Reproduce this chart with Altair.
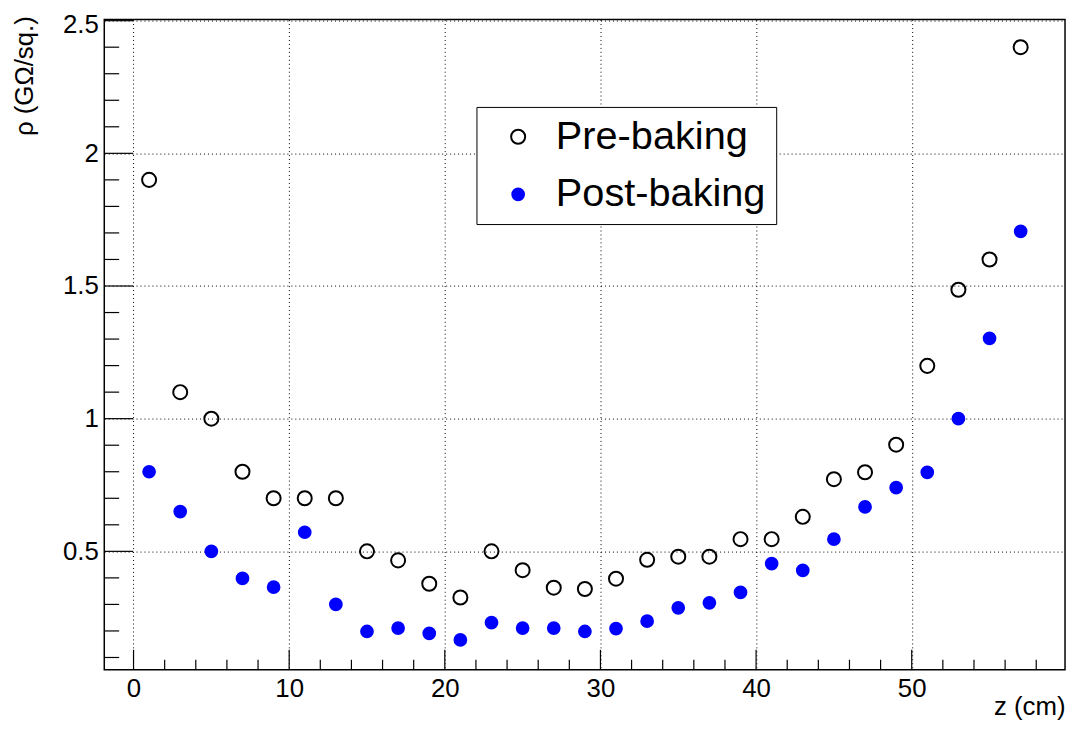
import altair as alt
import pandas as pd

# ---- data ----
z_cm = [1, 3, 5, 7, 9, 11, 13, 15, 17, 19, 21, 23, 25, 27, 29,
        31, 33, 35, 37, 39, 41, 43, 45, 47, 49, 51, 53, 55, 57]
pre_baking = [1.90, 1.10, 1.00, 0.80, 0.70, 0.70, 0.70, 0.50, 0.466, 0.378,
              0.326, 0.50, 0.429, 0.363, 0.358, 0.397, 0.468, 0.48, 0.48, 0.546,
              0.546, 0.63, 0.772, 0.798, 0.902, 1.199, 1.486, 1.60, 2.40]
post_baking = [0.80, 0.65, 0.50, 0.398, 0.365, 0.572, 0.30, 0.198, 0.211, 0.191,
               0.166, 0.231, 0.211, 0.211, 0.198, 0.209, 0.237, 0.287, 0.306, 0.345,
               0.454, 0.428, 0.546, 0.668, 0.740, 0.798, 1.00, 1.303, 1.706]
series_names = ["Pre-baking", "Post-baking"]

x_major = [0, 10, 20, 30, 40, 50]
x_minor = [2, 4, 6, 8, 12, 14, 16, 18, 22, 24, 26, 28, 32, 34, 36, 38,
           42, 44, 46, 48, 52, 54, 56, 58]
y_major = [0.5, 1.0, 1.5, 2.0, 2.5]
y_minor = [0.1, 0.2, 0.3, 0.4, 0.6, 0.7, 0.8, 0.9, 1.1, 1.2, 1.3, 1.4,
           1.6, 1.7, 1.8, 1.9, 2.1, 2.2, 2.3, 2.4]

x_domain = [-1.88, 59.85]
y_domain = [0.054, 2.504]

W, H = 968, 655
FONT = "Liberation Sans"

df = pd.DataFrame({
    "z": z_cm * 2,
    "rho": pre_baking + post_baking,
    "series": [series_names[0]] * len(z_cm) + [series_names[1]] * len(z_cm),
})
df_xmaj = pd.DataFrame({"z": x_major})
df_xmin = pd.DataFrame({"z": x_minor})
df_ymaj = pd.DataFrame({"rho": y_major})
df_ymin = pd.DataFrame({"rho": y_minor})

xs = alt.Scale(domain=x_domain, nice=False, zero=False)
ys = alt.Scale(domain=y_domain, nice=False, zero=False)

xaxis = alt.Axis(values=x_major, grid=True, gridColor="black", gridDash=[1, 3],
                 gridWidth=1, gridOpacity=1, ticks=False, domain=False,
                 labelFontSize=26, labelColor="black", labelPadding=6,
                 labelFlush=False,
                 title="z (cm)", titleFontSize=26, titleFontWeight="normal",
                 titleColor="black", titleAnchor="end", titleAlign="right",
                 titleBaseline="middle", titleX=W, titleY=37)
yaxis = alt.Axis(values=y_major, format="~g", grid=True, gridColor="black",
                 gridDash=[1, 3], gridWidth=1, gridOpacity=1, ticks=False,
                 domain=False, labelFontSize=26, labelColor="black",
                 labelPadding=6, labelFlush=5, labelFlushOffset=9,
                 title="ρ (GΩ/sq.)", titleFontSize=26, titleFontWeight="normal",
                 titleColor="black", titleAnchor="end", titleAlign="right",
                 titleBaseline="middle", titleAngle=270, titleX=-80, titleY=-4)

points = alt.Chart(df).mark_point(filled=False, strokeWidth=2, opacity=1).encode(
    x=alt.X("z:Q", scale=xs, axis=xaxis),
    y=alt.Y("rho:Q", scale=ys, axis=yaxis),
    color=alt.Color("series:N",
                    scale=alt.Scale(domain=series_names, range=["black", "#0000ff"]),
                    legend=alt.Legend(title=None, orient="none", legendX=375,
                                      legendY=88, fillColor="white",
                                      strokeColor="black", padding=10,
                                      labelFontSize=40, labelColor="black",
                                      labelFont=FONT, labelLimit=0, rowPadding=18,
                                      symbolOffset=12, labelOffset=18,
                                      symbolStrokeWidth=2)),
    fill=alt.Fill("series:N",
                  scale=alt.Scale(domain=series_names, range=["transparent", "#0000ff"])),
    size=alt.Size("series:N",
                  scale=alt.Scale(domain=series_names, range=[200, 140])),
)

xtick_major = alt.Chart(df_xmaj).mark_rule(color="black", strokeWidth=1.2).encode(
    x=alt.X("z:Q", scale=xs, axis=xaxis), y=alt.value(H), y2=alt.value(H - 20))
xtick_minor = alt.Chart(df_xmin).mark_rule(color="black", strokeWidth=1.2).encode(
    x=alt.X("z:Q", scale=xs, axis=xaxis), y=alt.value(H), y2=alt.value(H - 10))
ytick_major = alt.Chart(df_ymaj).mark_rule(color="black", strokeWidth=1.2).encode(
    y=alt.Y("rho:Q", scale=ys, axis=yaxis), x=alt.value(0), x2=alt.value(29))
ytick_minor = alt.Chart(df_ymin).mark_rule(color="black", strokeWidth=1.2).encode(
    y=alt.Y("rho:Q", scale=ys, axis=yaxis), x=alt.value(0), x2=alt.value(15))

chart = alt.layer(xtick_major, xtick_minor, ytick_major, ytick_minor, points).properties(
    width=W, height=H,
    autosize=alt.AutoSizeParams(type="none"),
    padding={"left": 97, "top": 9, "right": 3, "bottom": 48},
    background="white",
).configure(font=FONT).configure_view(
    stroke="black", strokeWidth=1.5
)

chart.save("out.html", embed_options={"renderer": "svg", "actions": False})
